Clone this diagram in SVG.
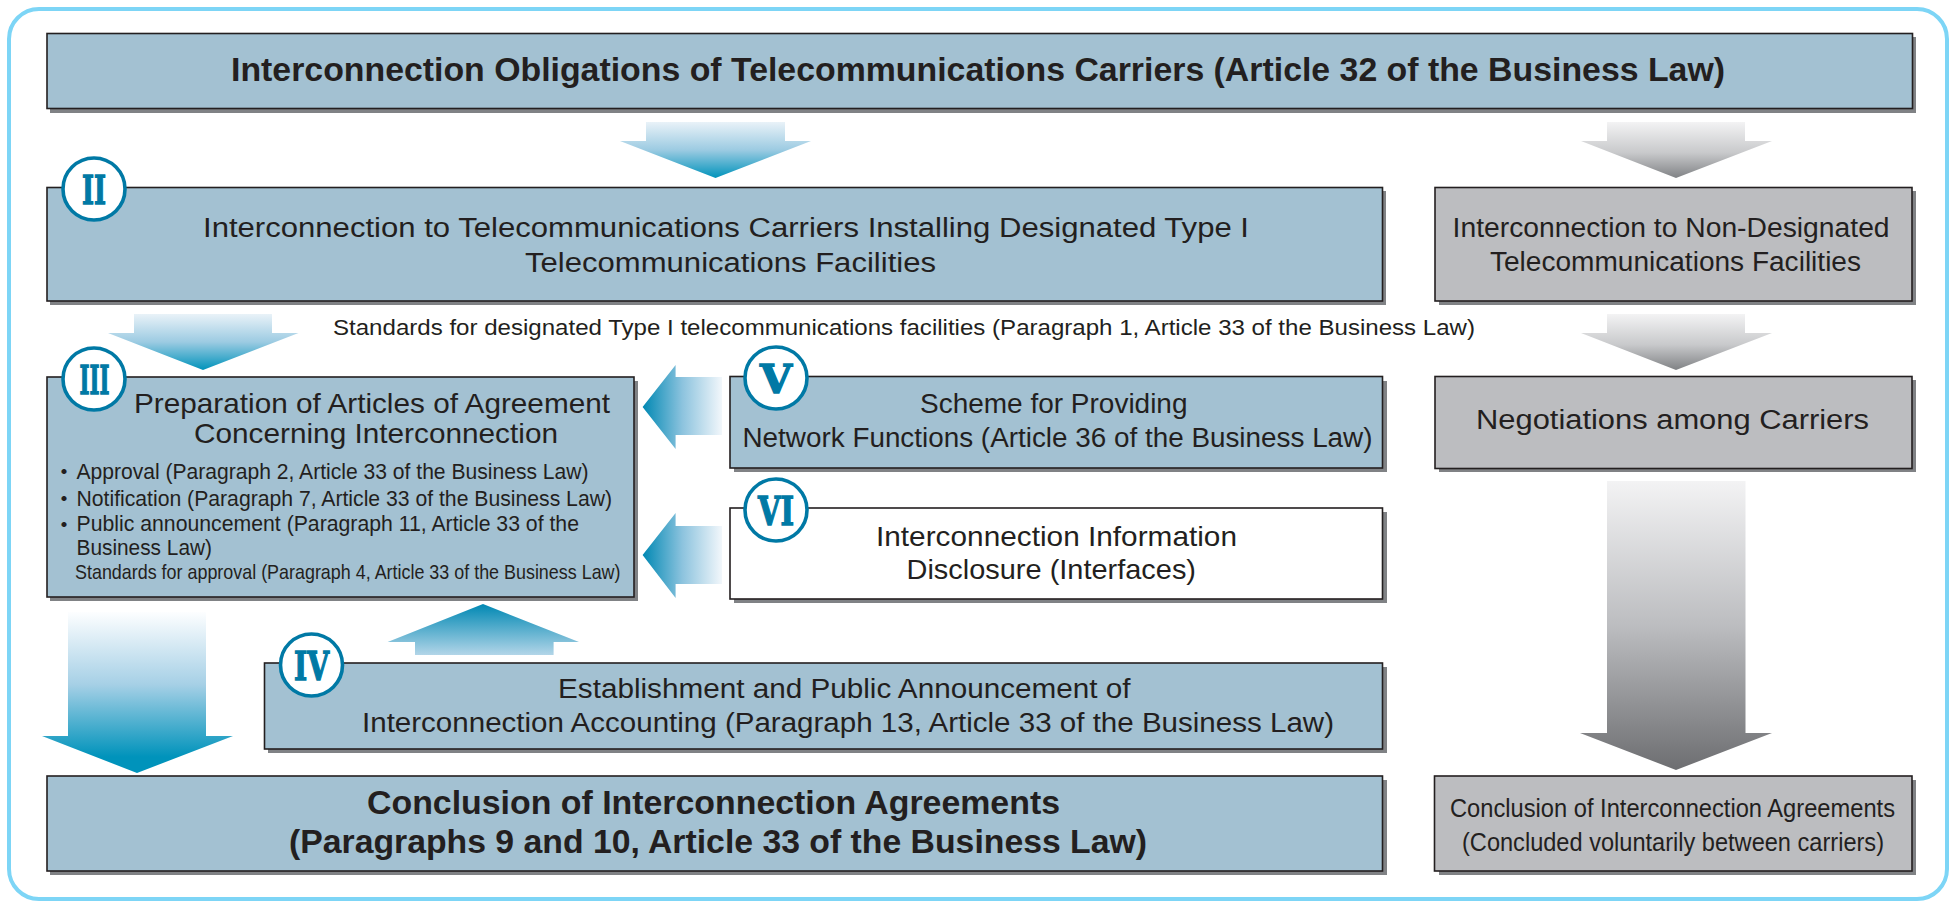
<svg xmlns="http://www.w3.org/2000/svg" width="1950" height="901" viewBox="0 0 1950 901">
<style>
.s{fill:#808285}
.b{fill:#a3c1d2;stroke:#231f20;stroke-width:1.6}
.g{fill:#bcbdc0;stroke:#231f20;stroke-width:1.6}
.w{fill:#fff;stroke:#231f20;stroke-width:1.6}
text{font-family:"Liberation Sans",Arial,sans-serif;fill:#231f20}
.t{font-weight:bold}
.c{fill:#fff;stroke:#0079a5;stroke-width:3.6}
.n{font-family:"DejaVu Serif",serif;font-weight:bold;fill:#0079a5;stroke:#0079a5;stroke-width:1.4;font-size:39px;text-anchor:middle}
.d{font-family:"Noto Sans CJK JP",sans-serif;font-weight:bold;font-size:20px;text-anchor:middle}
</style>
<defs>
<linearGradient id="bd" x1="0" y1="0" x2="0" y2="1"><stop offset="0" stop-color="#e9f2f8"/><stop offset=".5" stop-color="#9ccbe2"/><stop offset="1" stop-color="#0093bb"/></linearGradient>
<linearGradient id="bb" x1="0" y1="0" x2="0" y2="1"><stop offset="0" stop-color="#fdfeff"/><stop offset=".45" stop-color="#a6d0e6"/><stop offset=".9" stop-color="#0093bb"/><stop offset="1" stop-color="#0093bb"/></linearGradient>
<linearGradient id="bu" x1="0" y1="0" x2="0" y2="1"><stop offset="0" stop-color="#0088b3"/><stop offset="1" stop-color="#b2d5e8"/></linearGradient>
<linearGradient id="bl" x1="0" y1="0" x2="1" y2="0"><stop offset="0" stop-color="#0088b3"/><stop offset=".5" stop-color="#8cc3de"/><stop offset="1" stop-color="#f2f7fb"/></linearGradient>
<linearGradient id="gs" x1="0" y1="0" x2="0" y2="1"><stop offset="0" stop-color="#f3f3f4"/><stop offset=".55" stop-color="#c8c9cb"/><stop offset="1" stop-color="#808285"/></linearGradient>
<linearGradient id="gd" x1="0" y1="0" x2="0" y2="1"><stop offset="0" stop-color="#f3f3f4"/><stop offset=".5" stop-color="#bcbdc0"/><stop offset="1" stop-color="#6d6e71"/></linearGradient>
</defs>
<rect width="1950" height="901" fill="#fff"/>
<rect id="frame" x="9" y="9" width="1938" height="890" rx="30" fill="#fff" stroke="#7dd5f6" stroke-width="4"/>

<g id="connectors">
<polygon fill="url(#bd)" points="646,122 785,122 785,141 811,141 715.5,178 620,141 646,141"/>
<polygon fill="url(#bd)" points="134,314 272,314 272,333 298.5,333 203,370 108,333 134,333"/>
<polygon fill="url(#bl)" points="722,377 675.6,377 675.6,365 642.6,407 675.6,449 675.6,435 722,435"/>
<polygon fill="url(#bl)" points="722,526 675.6,526 675.6,513 642.6,555 675.6,598 675.6,584 722,584"/>
<polygon fill="url(#bu)" points="415,655 415,642 387.6,642 483,604 579,642 553.6,642 553.6,655"/>
<polygon fill="url(#bb)" points="68,612 206,612 206,736 233,736 137,773 42,736 68,736"/>
<polygon fill="url(#gs)" points="1607,122 1745,122 1745,141 1772,141 1676,178 1581,141 1607,141"/>
<polygon fill="url(#gs)" points="1607,314 1745,314 1745,333 1772,333 1676,370 1581,333 1607,333"/>
<polygon fill="url(#gd)" points="1607,481 1745.5,481 1745.5,733 1772,733 1676,770 1580,733 1607,733"/>
</g>

<g id="node-obligations">
<rect class="s" x="50" y="37" width="1866" height="76"/>
<rect class="b" x="47" y="33.500" width="1865.500" height="75"/>
<text class="t" x="231" y="81" font-size="33" textLength="1494" lengthAdjust="spacingAndGlyphs">Interconnection Obligations of Telecommunications Carriers (Article 32 of the Business Law)</text>
</g>

<g id="node-designated">
<rect class="s" x="50" y="191" width="1336" height="114"/>
<rect class="b" x="47" y="187.500" width="1335.500" height="113.500"/>
<text x="203" y="237" font-size="27" textLength="1046" lengthAdjust="spacingAndGlyphs">Interconnection to Telecommunications Carriers Installing Designated Type I</text>
<text x="525" y="272" font-size="27" textLength="411" lengthAdjust="spacingAndGlyphs">Telecommunications Facilities</text>
<circle class="c" cx="94" cy="189" r="31"/>
<text class="n" x="94" y="204" textLength="24" lengthAdjust="spacingAndGlyphs">II</text>
</g>

<g id="node-non-designated">
<rect class="s" x="1439" y="191" width="477" height="114"/>
<rect class="g" x="1435" y="187.500" width="477" height="113.500"/>
<text x="1452.600" y="237" font-size="27" textLength="437" lengthAdjust="spacingAndGlyphs">Interconnection to Non-Designated</text>
<text x="1490" y="271" font-size="27" textLength="371" lengthAdjust="spacingAndGlyphs">Telecommunications Facilities</text>
</g>

<text id="standards-label" x="333" y="335" font-size="22" textLength="1142" lengthAdjust="spacingAndGlyphs">Standards for designated Type I telecommunications facilities (Paragraph 1, Article 33 of the Business Law)</text>

<g id="node-articles">
<rect class="s" x="50" y="381" width="588" height="220"/>
<rect class="b" x="47" y="377" width="587" height="220"/>
<text x="134" y="413" font-size="28" textLength="476" lengthAdjust="spacingAndGlyphs">Preparation of Articles of Agreement</text>
<text x="194" y="443" font-size="28" textLength="364" lengthAdjust="spacingAndGlyphs">Concerning Interconnection</text>
<text class="d" x="64" y="479">・</text>
<text x="76.500" y="479" font-size="22" textLength="512" lengthAdjust="spacingAndGlyphs">Approval (Paragraph 2, Article 33 of the Business Law)</text>
<text class="d" x="64" y="505.500">・</text>
<text x="76.500" y="505.500" font-size="22" textLength="535.500" lengthAdjust="spacingAndGlyphs">Notification (Paragraph 7, Article 33 of the Business Law)</text>
<text class="d" x="64" y="532">・</text>
<text x="76.500" y="531" font-size="22" textLength="502.500" lengthAdjust="spacingAndGlyphs">Public announcement (Paragraph 11, Article 33 of the</text>
<text x="76.500" y="555" font-size="22" textLength="135.500" lengthAdjust="spacingAndGlyphs">Business Law)</text>
<text x="75" y="579" font-size="21" textLength="545.500" lengthAdjust="spacingAndGlyphs">Standards for approval (Paragraph 4, Article 33 of the Business Law)</text>
<circle class="c" cx="94" cy="379" r="31"/>
<text class="n" x="94.500" y="394" textLength="30" lengthAdjust="spacingAndGlyphs">III</text>
</g>

<g id="node-network-functions">
<rect class="s" x="734" y="381" width="653" height="91"/>
<rect class="b" x="730" y="376.500" width="652.500" height="91.500"/>
<text x="920" y="413" font-size="27" textLength="267.500" lengthAdjust="spacingAndGlyphs">Scheme for Providing</text>
<text x="742.500" y="447" font-size="27" textLength="630" lengthAdjust="spacingAndGlyphs">Network Functions (Article 36 of the Business Law)</text>
<circle class="c" cx="776" cy="378" r="31"/>
<text class="n" x="776" y="393" textLength="32" lengthAdjust="spacingAndGlyphs">V</text>
</g>

<g id="node-disclosure">
<rect class="s" x="734" y="512" width="653" height="91"/>
<rect class="w" x="730" y="508" width="652.500" height="91"/>
<text x="876" y="546" font-size="28" textLength="361" lengthAdjust="spacingAndGlyphs">Interconnection Information</text>
<text x="906.500" y="579" font-size="28" textLength="289.500" lengthAdjust="spacingAndGlyphs">Disclosure (Interfaces)</text>
<circle class="c" cx="776" cy="510" r="31"/>
<text class="n" x="776" y="525" textLength="36" lengthAdjust="spacingAndGlyphs">VI</text>
</g>

<g id="node-accounting">
<rect class="s" x="268" y="667" width="1119" height="86"/>
<rect class="b" x="264.500" y="663" width="1118" height="86"/>
<text x="558" y="698" font-size="27" textLength="572.500" lengthAdjust="spacingAndGlyphs">Establishment and Public Announcement of</text>
<text x="362" y="732" font-size="27" textLength="972" lengthAdjust="spacingAndGlyphs">Interconnection Accounting (Paragraph 13, Article 33 of the Business Law)</text>
<circle class="c" cx="311.500" cy="665" r="31"/>
<text class="n" x="311.500" y="680" textLength="35" lengthAdjust="spacingAndGlyphs">IV</text>
</g>

<g id="node-negotiations">
<rect class="s" x="1439" y="380" width="477" height="92"/>
<rect class="g" x="1435" y="376.500" width="477" height="92"/>
<text x="1476" y="429" font-size="27" textLength="393" lengthAdjust="spacingAndGlyphs">Negotiations among Carriers</text>
</g>

<g id="node-conclusion">
<rect class="s" x="50" y="780" width="1337" height="95"/>
<rect class="b" x="47" y="776" width="1335.500" height="95"/>
<text class="t" x="367" y="814" font-size="34" textLength="693" lengthAdjust="spacingAndGlyphs">Conclusion of Interconnection Agreements</text>
<text class="t" x="289" y="853" font-size="34" textLength="858" lengthAdjust="spacingAndGlyphs">(Paragraphs 9 and 10, Article 33 of the Business Law)</text>
</g>

<g id="node-conclusion-voluntary">
<rect class="s" x="1439" y="780" width="477" height="95"/>
<rect class="g" x="1434.500" y="776" width="477.500" height="95"/>
<text x="1450" y="817" font-size="25" textLength="445" lengthAdjust="spacingAndGlyphs">Conclusion of Interconnection Agreements</text>
<text x="1462" y="851" font-size="25" textLength="422" lengthAdjust="spacingAndGlyphs">(Concluded voluntarily between carriers)</text>
</g>
</svg>
